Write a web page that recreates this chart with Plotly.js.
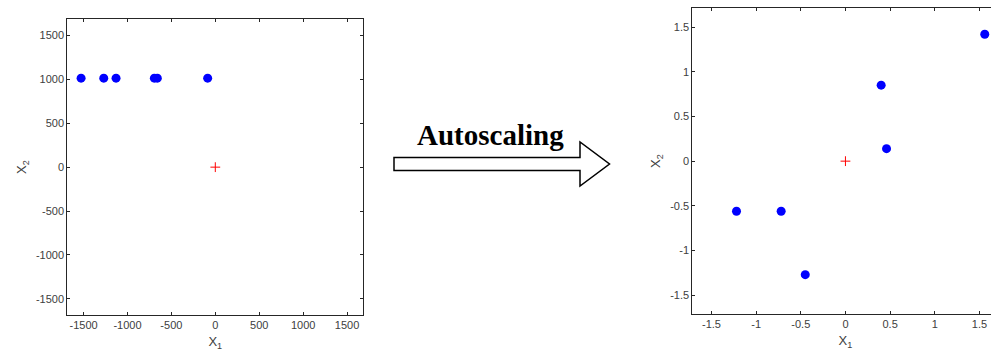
<!DOCTYPE html>
<html>
<head>
<meta charset="utf-8">
<script src="https://cdn.plot.ly/plotly-3.0.1.min.js"></script>
<style>
html,body{margin:0;padding:0;overflow:hidden;background:#fff;}
#chart{width:999px;height:358px;}
</style>
</head>
<body>
<div id="chart"></div>
<script>
// Raw data (left panel)
const rawX1 = [-1528, -1270, -1130, -694, -660, -87];
const rawX2 = [1015, 1015, 1015, 1015, 1015, 1015];
// Autoscaled data (right panel)
const scaledX1 = [-1.22, -0.72, -0.45, 0.40, 0.46, 1.56];
const scaledX2 = [-0.56, -0.56, -1.27, 0.85, 0.14, 1.42];
// Centre marker
const centreX = [0];
const centreY = [0];
// Tick values / labels
const rawTicks = [-1500, -1000, -500, 0, 500, 1000, 1500];
const rawTickText = ['-1500', '-1000', '-500', '0', '500', '1000', '1500'];
const scaledTicks = [-1.5, -1, -0.5, 0, 0.5, 1, 1.5];
const scaledTickText = ['-1.5', '-1', '-0.5', '0', '0.5', '1', '1.5'];
const arrowLabel = 'Autoscaling';

const W = 999, H = 358;
const px = v => v / W;
const py = v => 1 - v / H;

const axisColor = '#262626';
const font = {family: 'Liberation Sans, Arial, sans-serif', size: 11, color: '#404040'};

function axisBase() {
  return {
    showgrid: false, zeroline: false, showline: true, linecolor: axisColor, linewidth: 1,
    mirror: 'ticks', ticks: 'inside', ticklen: 3, tickcolor: axisColor, tickwidth: 1,
    tickfont: font, automargin: false, fixedrange: true
  };
}

const blueMarker = {color: '#0000ff', size: 9, symbol: 'circle'};
const redMarker = {color: '#ff0000', size: 7, symbol: 'cross-thin-open', line: {color: '#ff0000', width: 1}};

const traces = [
  {x: rawX1, y: rawX2, type: 'scatter', mode: 'markers', marker: blueMarker, xaxis: 'x', yaxis: 'y', hoverinfo: 'skip'},
  {x: centreX, y: centreY, type: 'scatter', mode: 'markers', marker: redMarker, xaxis: 'x', yaxis: 'y', hoverinfo: 'skip'},
  {x: scaledX1, y: scaledX2, type: 'scatter', mode: 'markers', marker: blueMarker, xaxis: 'x2', yaxis: 'y2', hoverinfo: 'skip'},
  {x: centreX, y: centreY, type: 'scatter', mode: 'markers', marker: redMarker, xaxis: 'x2', yaxis: 'y2', hoverinfo: 'skip'}
];

const titleFont = {family: 'Liberation Sans, Arial, sans-serif', size: 13, color: '#404040'};

const layout = {
  width: W, height: H,
  margin: {l: 0, r: 0, t: 0, b: 0},
  paper_bgcolor: '#ffffff', plot_bgcolor: '#ffffff',
  showlegend: false,
  xaxis: Object.assign(axisBase(), {
    domain: [px(67.3), px(363.3)], range: [-1685, 1685], tickvals: rawTicks, ticktext: rawTickText,
    title: {text: 'X<sub>1</sub>', font: titleFont, standoff: 6}, anchor: 'y'
  }),
  yaxis: Object.assign(axisBase(), {
    domain: [py(315), py(19.3)], range: [-1686, 1686], tickvals: rawTicks, ticktext: rawTickText,
    title: {text: 'X<sub>2</sub>', font: titleFont, standoff: 6}, anchor: 'x'
  }),
  xaxis2: Object.assign(axisBase(), {
    domain: [px(692.3), px(998.6)], range: [-1.715, 1.715], tickvals: scaledTicks, ticktext: scaledTickText,
    title: {text: 'X<sub>1</sub>', font: titleFont, standoff: 6}, anchor: 'y2'
  }),
  yaxis2: Object.assign(axisBase(), {
    domain: [py(314), py(8.3)], range: [-1.71, 1.71], tickvals: scaledTicks, ticktext: scaledTickText,
    title: {text: 'X<sub>2</sub>', font: titleFont, standoff: 6}, anchor: 'x2'
  }),
  shapes: [{
    type: 'path', xref: 'paper', yref: 'paper',
    path: 'M ' + px(394) + ',' + py(157.5) +
          ' L ' + px(580) + ',' + py(157.5) +
          ' L ' + px(580) + ',' + py(142) +
          ' L ' + px(609.5) + ',' + py(164) +
          ' L ' + px(580) + ',' + py(186) +
          ' L ' + px(580) + ',' + py(170.5) +
          ' L ' + px(394) + ',' + py(170.5) + ' Z',
    line: {color: '#000000', width: 1.5}, fillcolor: '#ffffff'
  }],
  annotations: [{
    xref: 'paper', yref: 'paper', x: px(490), y: py(135), xanchor: 'center', yanchor: 'middle',
    text: '<b>' + arrowLabel + '</b>', showarrow: false,
    font: {family: 'Liberation Serif, Times New Roman, serif', size: 29, color: '#000000'}
  }]
};

Plotly.newPlot('chart', traces, layout, {displayModeBar: false, staticPlot: true});
</script>
</body>
</html>
